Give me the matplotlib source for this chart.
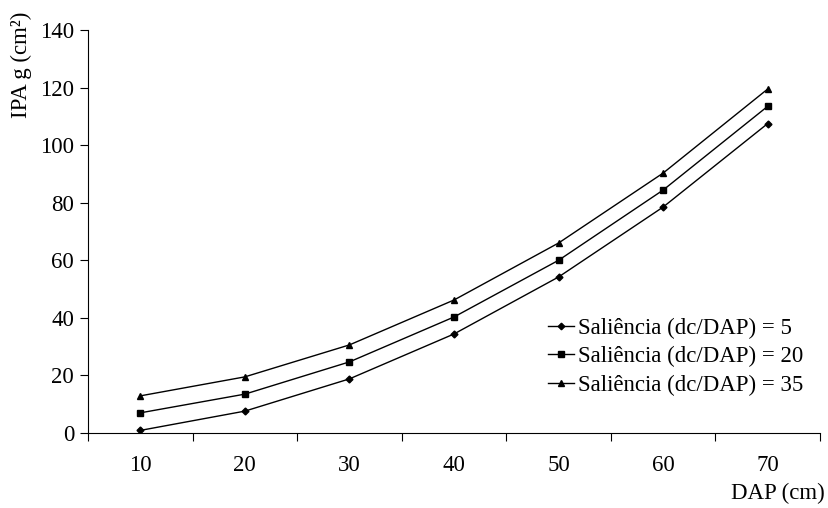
import numpy as np
import matplotlib.pyplot as plt

plt.rcParams['font.family'] = ['Liberation Serif', 'DejaVu Serif']

dap = [10, 20, 30, 40, 50, 60, 70]
s5 = [0.9, 7.6, 18.8, 34.4, 54.2, 78.5, 107.5]
s20 = [7.0, 13.5, 24.7, 40.3, 60.0, 84.4, 113.5]
s35 = [12.9, 19.5, 30.6, 46.2, 66.0, 90.3, 119.5]
labels = ["Saliência (dc/DAP) = 5", "Saliência (dc/DAP) = 20", "Saliência (dc/DAP) = 35"]

fs = 16.5
fig = plt.figure(figsize=(8.29, 5.08), dpi=100)
ax = fig.add_axes([88/829, 75/508, 732/829, 403/508])

x = np.arange(len(dap))
ax.plot(x, s5, color='black', lw=1, marker='D', ms=3.5, label=labels[0])
ax.plot(x, s20, color='black', lw=1, marker='s', ms=4.8, label=labels[1])
ax.plot(x, s35, color='black', lw=1, marker='^', ms=5, label=labels[2])

ax.set_xlim(-0.5, len(dap) - 0.5)
ax.set_ylim(0, 140)
ax.set_yticks(range(0, 141, 20))
ax.set_xticks(np.arange(-0.5, len(dap), 1.0))
ax.set_xticklabels([])
ax.set_xticks(x, minor=True)
ax.set_xticklabels([str(d) for d in dap], minor=True)
ax.tick_params(axis='x', which='major', length=6, direction='out')
ax.tick_params(axis='x', which='minor', length=0, pad=16, labelsize=fs)
ax.tick_params(axis='y', length=6, direction='out', pad=4, labelsize=fs)
for s in ['top', 'right']:
    ax.spines[s].set_visible(False)

fig.text(21/829, (508-65)/508, "IPA g (cm²)", rotation=90, ha='center', va='center', fontsize=fs)
fig.text(825/829, 15/508, "DAP (cm)", ha='right', va='center', fontsize=fs)

leg = ax.legend(loc='lower right', bbox_to_anchor=(0.99, 0.07), frameon=False,
                fontsize=fs, handlelength=1.1, handletextpad=0.2, labelspacing=0.32,
                borderaxespad=0, markerscale=0.95)

fig.savefig("out.png", dpi=100)
